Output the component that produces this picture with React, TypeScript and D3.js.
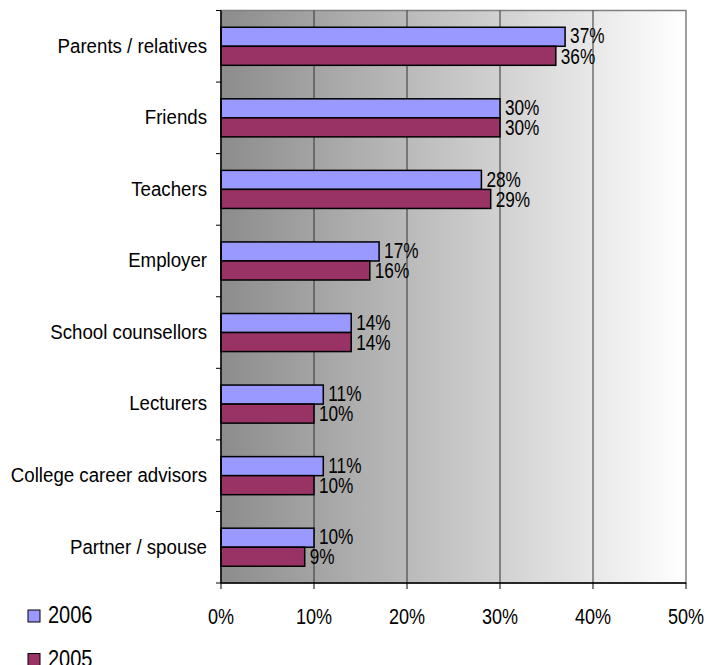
import React from "react";
import * as d3 from "d3";

const categories = [
  "Parents / relatives",
  "Friends",
  "Teachers",
  "Employer",
  "School counsellors",
  "Lecturers",
  "College career advisors",
  "Partner / spouse",
];
const series2006 = [37, 30, 28, 17, 14, 11, 11, 10];
const series2005 = [36, 30, 29, 16, 14, 10, 10, 9];
const seriesNames = ["2006", "2005"];
const seriesColors = ["#9999FF", "#993366"];
const xTicks = [0, 10, 20, 30, 40, 50];

const W = 706;
const H = 665;
const left = 221;
const right = 686;
const top = 10.5;
const bottom = 583;
const FONT = "'Liberation Sans', Arial, sans-serif";

type TProps = {
  x: number;
  y: number;
  size: number;
  sx: number;
  anchor?: "start" | "middle" | "end";
  baseline?: "central" | "auto";
  children: React.ReactNode;
};

function T({ x, y, size, sx, anchor = "start", baseline = "auto", children }: TProps) {
  return (
    <text
      transform={`translate(${x},${y}) scale(${sx},1)`}
      textAnchor={anchor}
      dominantBaseline={baseline}
      fontFamily={FONT}
      fontSize={size}
      fill="#000"
    >
      {children}
    </text>
  );
}

export default function App() {
  const x = d3.scaleLinear().domain([0, 50]).range([left, right]);
  const y = d3.scaleBand<string>().domain(categories).range([top, bottom]).paddingInner(0).paddingOuter(0);
  const inner = d3.scaleBand<string>().domain(seriesNames).range([0, y.bandwidth()]).paddingOuter(0.88).paddingInner(0);
  const allSeries = [series2006, series2005];
  const boundaries = d3.range(categories.length + 1).map((i) => top + i * y.step());

  return (
    <svg width={W} height={H} style={{ position: "absolute", left: 0, top: 0 }}>
      <defs>
        <linearGradient id="bg" x1="0" x2="1" y1="0" y2="0">
          <stop offset="0" stopColor="#8c8c8c" />
          <stop offset="1" stopColor="#ffffff" />
        </linearGradient>
      </defs>
      <rect x={left} y={top} width={right - left} height={bottom - top} fill="url(#bg)" stroke="#808080" strokeWidth={1.5} />
      {xTicks.slice(1, -1).map((t) => (
        <line key={t} x1={x(t)} x2={x(t)} y1={top} y2={bottom} stroke="#333" strokeWidth={1} />
      ))}
      {categories.map((c, i) =>
        allSeries.map((s, k) => {
          const by = (y(c) as number) + (inner(seriesNames[k]) as number);
          const bh = inner.bandwidth();
          return (
            <g key={c + k}>
              <rect x={x(0)} y={by} width={x(s[i]) - x(0)} height={bh} fill={seriesColors[k]} stroke="#000" strokeWidth={1.5} />
              <T x={x(s[i]) + 5} y={by + bh / 2 - (k === 0 ? 1 : 0)} size={21.5} sx={0.8} baseline="central">
                {s[i]}%
              </T>
            </g>
          );
        })
      )}
      {/* left axis */}
      <line x1={left} x2={left} y1={top} y2={bottom} stroke="#000" strokeWidth={1.5} />
      {boundaries.map((b, i) => (
        <line key={i} x1={left - 5} x2={left} y1={b} y2={b} stroke="#000" strokeWidth={1} />
      ))}
      {categories.map((c) => (
        <T key={c} x={207} y={(y(c) as number) + y.bandwidth() / 2 - 1} size={21} sx={0.89} anchor="end" baseline="central">
          {c}
        </T>
      ))}
      {/* bottom axis */}
      <line x1={left} x2={right} y1={bottom} y2={bottom} stroke="#000" strokeWidth={1.5} />
      {xTicks.map((t) => (
        <g key={t}>
          <line x1={x(t)} x2={x(t)} y1={bottom} y2={bottom + 6} stroke="#000" strokeWidth={1} />
          <T x={x(t)} y={624} size={22} sx={0.82} anchor="middle">
            {t}%
          </T>
        </g>
      ))}
      {/* legend */}
      {seriesNames.map((n, k) => (
        <g key={n}>
          <rect x={28} y={610 + k * 43.5} width={12} height={12} fill={seriesColors[k]} stroke="#000" strokeWidth={1} />
          <T x={48} y={623.3 + k * 43.5} size={23} sx={0.87}>
            {n}
          </T>
        </g>
      ))}
    </svg>
  );
}
